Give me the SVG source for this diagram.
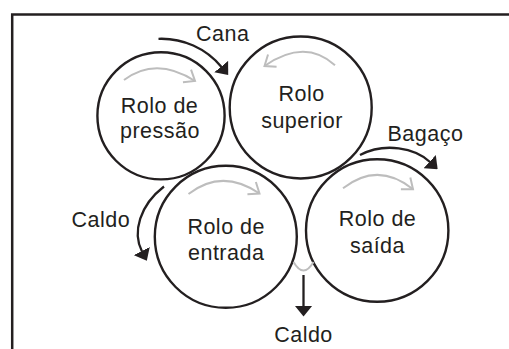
<svg xmlns="http://www.w3.org/2000/svg" width="509" height="349" viewBox="0 0 509 349">
<style>
.frame{fill:none;stroke:#231f20;stroke-width:2.5}
.roll{fill:#fff;stroke:#231f20;stroke-width:2.4}
.flow{fill:none;stroke:#231f20;stroke-width:2.3}
.rot{fill:none;stroke:#bdbdbd;stroke-width:2}
.lbl{font-family:"Liberation Sans",Arial,sans-serif;font-size:21.5px;letter-spacing:0.5px;fill:#231f20;text-anchor:middle}
</style>
<defs>
<marker id="head" markerUnits="userSpaceOnUse" viewBox="0 -9 11 18" markerWidth="11" markerHeight="18" refX="0.5" refY="0" orient="auto">
<path d="M0,-9 L11,0 L0,9 Z" fill="#231f20"/>
</marker>
<marker id="chev" markerUnits="userSpaceOnUse" viewBox="-12 -10 14 20" markerWidth="14" markerHeight="20" refX="0" refY="0" orient="auto" overflow="visible">
<path d="M-9.5,-7.5 L0,0 L-9.5,7.5" fill="none" stroke="#bdbdbd" stroke-width="2"/>
</marker>
</defs>
<path class="frame" d="M12.2,349 L12.2,14.5 L509,14.5"/>
<g id="rolo-pressao">
<circle class="roll" cx="161" cy="115.8" r="63.6"/>
<path class="rot" d="M124,80 Q156,56 195,81" marker-end="url(#chev)"/>
<text class="lbl" x="159.5" y="113.3">Rolo de</text>
<text class="lbl" x="160" y="138.3">pressão</text>
</g>
<g id="rolo-superior">
<circle class="roll" cx="300.7" cy="107.5" r="71"/>
<path class="rot" d="M335,65.3 Q305,38 264.5,66" marker-end="url(#chev)"/>
<text class="lbl" x="301.7" y="101">Rolo</text>
<text class="lbl" x="302" y="128.3">superior</text>
</g>
<g id="rolo-entrada">
<circle class="roll" cx="225.8" cy="236.8" r="71"/>
<path class="rot" d="M188.5,194 Q222,168 259.5,193.5" marker-end="url(#chev)"/>
<text class="lbl" x="226.2" y="234">Rolo de</text>
<text class="lbl" x="226.2" y="259.5">entrada</text>
</g>
<g id="rolo-saida">
<circle class="roll" cx="377.2" cy="230.5" r="71.2"/>
<path class="rot" d="M343,188.3 Q378,161 413,189.3" marker-end="url(#chev)"/>
<text class="lbl" x="377.5" y="226">Rolo de</text>
<text class="lbl" x="377.5" y="252.5">saída</text>
</g>
<g id="connectors">
<path class="flow" d="M158.5,38.8 A78,78 0 0 1 221.5,67" marker-end="url(#head)"/>
<path class="flow" d="M360,155 C385,142 415,148 430,162" marker-end="url(#head)"/>
<path class="flow" d="M164,186.5 C140,205 132,232 142,251.5" marker-end="url(#head)"/>
<path class="flow" d="M303.5,275 L303.5,306" marker-end="url(#head)"/>
<path class="rot" d="M293.5,262 Q303.5,279 313.5,262"/>
</g>
<g id="labels">
<text class="lbl" x="222.8" y="40.7">Cana</text>
<text class="lbl" x="425.5" y="140.7">Bagaço</text>
<text class="lbl" x="100.8" y="226.7">Caldo</text>
<text class="lbl" x="303.5" y="341.7">Caldo</text>
</g>
</svg>
